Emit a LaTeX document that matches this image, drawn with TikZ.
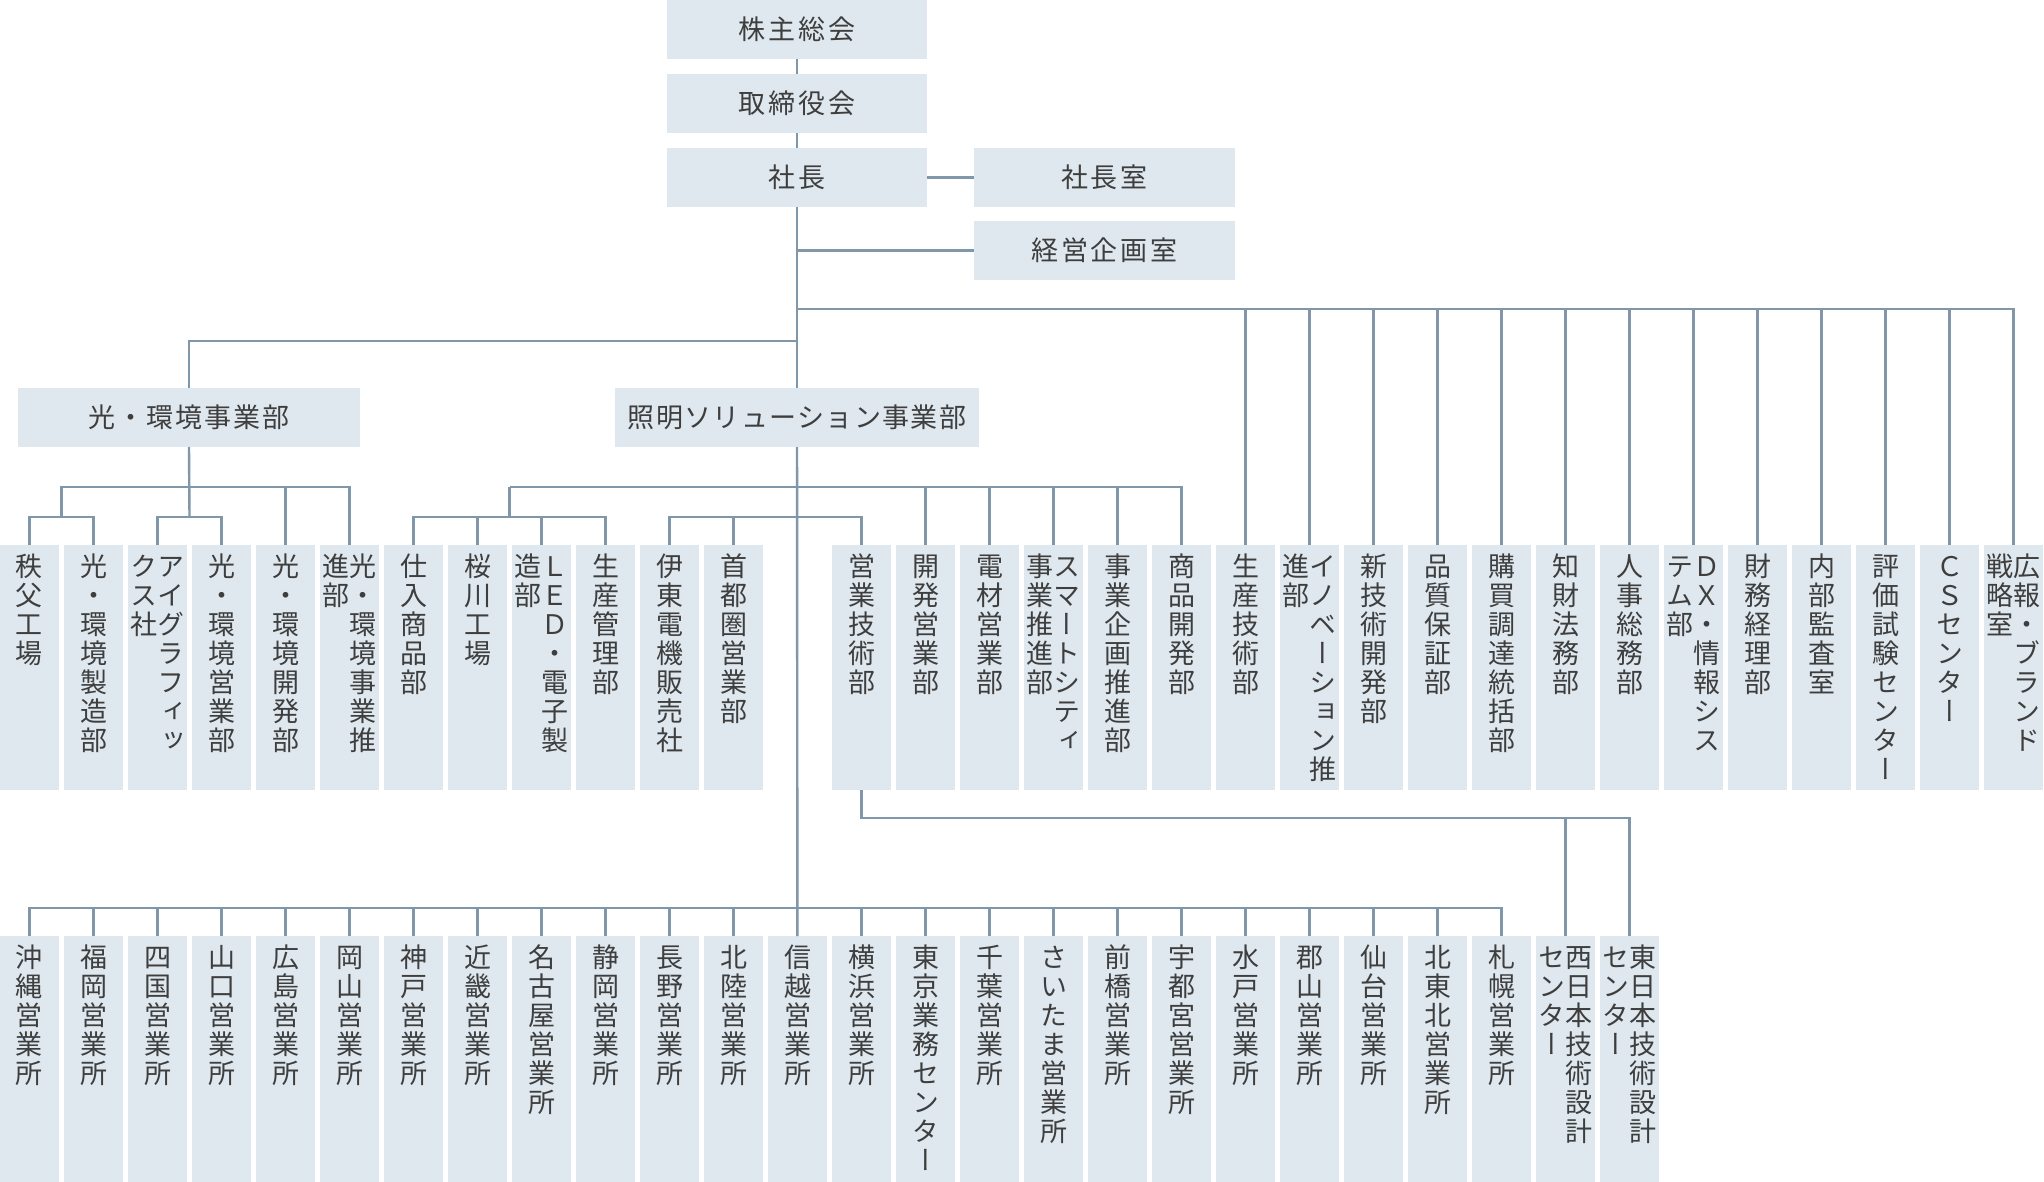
\documentclass[tikz,border=0pt]{standalone}
\usepackage{fontspec}
\setmainfont{Noto Sans CJK JP}
\newfontfamily\hjp[LetterSpace=11]{Noto Sans CJK JP}
\newfontfamily\hjpm[LetterSpace=7]{Noto Sans CJK JP}
\newfontfamily\hjpn[LetterSpace=5]{Noto Sans CJK JP}
\newfontfamily\vjp[RawFeature=+vert]{Noto Sans CJK JP}
\definecolor{boxc}{HTML}{DFE8EF}
\definecolor{linec}{HTML}{7F97A8}
\definecolor{txtc}{HTML}{3E3E3E}
\makeatletter
\newcommand\vcol[1]{\edef\vc@list{#1}\vtop{\offinterlineskip\expandafter\@tfor\expandafter\vc@c\expandafter:\expandafter=\vc@list\do{\hbox to 27.5pt{\hss\smash{\vc@c}\hss\vrule height 22pt depth 7pt width 0pt}}}}
\makeatother
\newcommand\vtwo[3][245pt]{\vbox to #1{\kern 9pt\hbox to 59pt{\hss\vjp\fontsize{27pt}{29pt}\selectfont\vcol{#3}\vcol{#2}\hss}\vss}}
\tikzset{
  hnode/.style={fill=boxc, inner sep=0pt, outer sep=0pt, anchor=north west, text=txtc,
    minimum height=59pt, font=\hjp\fontsize{27pt}{30pt}\selectfont},
  vnode/.style={fill=boxc, inner sep=0pt, outer sep=0pt, anchor=north west, text=txtc},
  conn/.style={draw=linec, line width=2.4pt}
}
\begin{document}
\begin{tikzpicture}[x=1pt,y=-1pt]
\useasboundingbox (0,0) rectangle (2044,1182);
% top boxes
\node[hnode, minimum width=260pt] (kabu) at (667,0) {株主総会};
\node[hnode, minimum width=260pt] (tori) at (667,74) {取締役会};
\node[hnode, minimum width=260pt] (shacho) at (667,148) {社長};
\node[hnode, minimum width=261pt] (shitsu) at (974,148) {社長室};
\node[hnode, minimum width=261pt] (keiei) at (974,221) {経営企画室};
\node[hnode, minimum width=342pt, font=\hjpm\fontsize{27pt}{30pt}\selectfont] (hikari) at (18,388) {光・環境事業部};
\node[hnode, minimum width=364pt, font=\hjpn\fontsize{27pt}{30pt}\selectfont] (shomei) at (615,388) {照明ソリューション事業部};
% middle row
\foreach \i/\vR/\vL in {0/秩父工場/{},1/光・環境製造部/{},2/アイグラフィッ/クス社,3/光・環境営業部/{},
  4/光・環境開発部/{},5/光・環境事業推/進部,6/仕入商品部/{},7/桜川工場/{},8/ＬＥＤ・電子製/造部,
  9/生産管理部/{},10/伊東電機販売社/{},11/首都圏営業部/{},13/営業技術部/{},14/開発営業部/{},
  15/電材営業部/{},16/スマートシティ/事業推進部,17/事業企画推進部/{},18/商品開発部/{},
  19/生産技術部/{},20/イノベーション推/進部,21/新技術開発部/{},22/品質保証部/{},
  23/購買調達統括部/{},24/知財法務部/{},25/人事総務部/{},26/ＤＸ・情報シス/テム部,
  27/財務経理部/{},28/内部監査室/{},29/評価試験センター/{},30/ＣＳセンター/{},31/広報・ブランド/戦略室}
  {\node[vnode] (m\i) at ({64*\i},545) {\vtwo{\vR}{\vL}};}
% bottom row
\foreach \i/\vR/\vL in {0/沖縄営業所/{},1/福岡営業所/{},2/四国営業所/{},3/山口営業所/{},4/広島営業所/{},
  5/岡山営業所/{},6/神戸営業所/{},7/近畿営業所/{},8/名古屋営業所/{},9/静岡営業所/{},10/長野営業所/{},
  11/北陸営業所/{},12/信越営業所/{},13/横浜営業所/{},14/東京業務センター/{},15/千葉営業所/{},
  16/さいたま営業所/{},17/前橋営業所/{},18/宇都宮営業所/{},19/水戸営業所/{},20/郡山営業所/{},
  21/仙台営業所/{},22/北東北営業所/{},23/札幌営業所/{},24/西日本技術設計/センター,25/東日本技術設計/センター}
  {\node[vnode] (b\i) at ({64*\i},936) {\vtwo[246pt]{\vR}{\vL}};}
% coordinates for junctions
\coordinate (rb) at (797.5,309);
\coordinate (lb) at (797.5,341);
\coordinate (h1) at (61.5,487);
\coordinate (h1b) at (61.5,517);
\coordinate (h2) at (189.5,517);
\coordinate (s1) at (509.5,487);
\coordinate (s1b) at (509.5,517);
\coordinate (s2) at (797.5,517);
\coordinate (e1) at (1565.5,818);
\coordinate (bb) at (797.5,908);
% top connectors
\draw[conn] (kabu) -- (tori);
\draw[conn] (tori) -- (shacho);
\draw[conn] (shacho) -- (shitsu);
\draw[conn] (keiei.west) -- (keiei.west -| shacho.south);
\draw[conn] (shacho) -- (shomei);
\draw[conn] (shomei) -- (b12);
% staff departments
\draw[conn] (rb) -| (m31.north);
\foreach \i in {19,...,30} \draw[conn] (m\i.north) -- (m\i.north |- rb);
% light & environment division
\draw[conn] (lb) -| (hikari.north);
\draw[conn] (hikari.south) -- (h2);
\draw[conn] (m5.north) |- (h1) -- (h1b);
\draw[conn] (m4.north) -- (m4.north |- h1);
\draw[conn] (m0.north) |- (h1b) -| (m1.north);
\draw[conn] (m2.north) |- (h2) -| (m3.north);
% lighting solution division
\draw[conn] (s1) -| (m18.north);
\foreach \i in {14,...,17} \draw[conn] (m\i.north) -- (m\i.north |- s1);
\draw[conn] (s1) -- (s1b);
\draw[conn] (m6.north) |- (s1b) -| (m9.north);
\foreach \i in {7,8} \draw[conn] (m\i.north) -- (m\i.north |- s1b);
\draw[conn] (m10.north) |- (s2) -| (m13.north);
\draw[conn] (m11.north) -- (m11.north |- s2);
% sales offices
\draw[conn] (b0.north) |- (bb) -| (b23.north);
\foreach \i in {1,...,11,13,14,...,22} \draw[conn] (b\i.north) -- (b\i.north |- bb);
% technical design centres
\draw[conn] (m13.south) |- (e1) -| (b25.north);
\draw[conn] (b24.north) -- (b24.north |- e1);
\end{tikzpicture}
\end{document}
